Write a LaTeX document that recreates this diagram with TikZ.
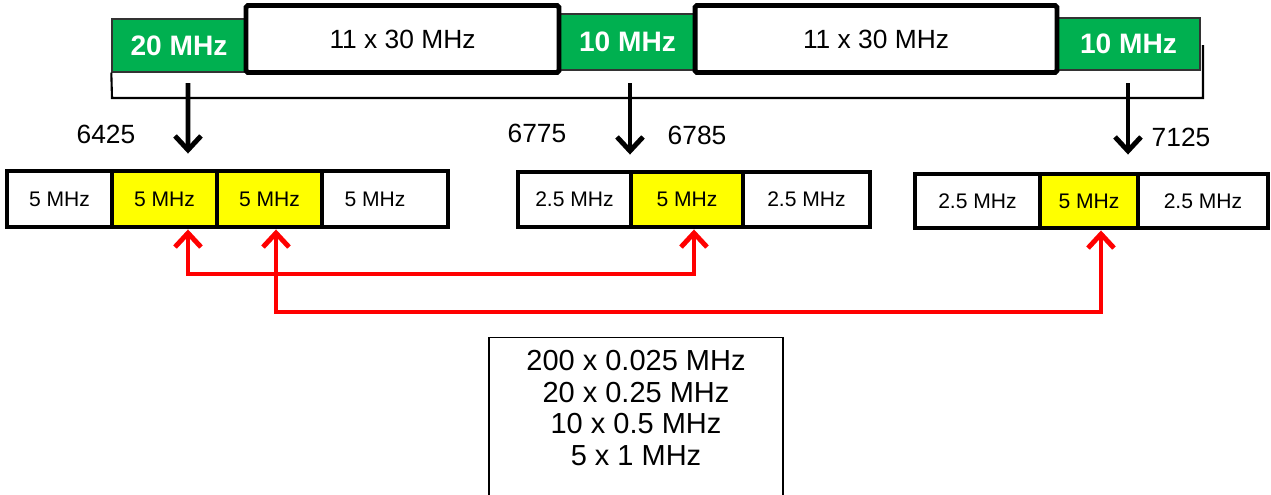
\documentclass[tikz,border=0pt]{standalone}
\usepackage{fontspec}
\setmainfont{Liberation Sans}
\usetikzlibrary{arrows.meta,positioning,calc}
\definecolor{bandgreen}{RGB}{0,176,80}
\definecolor{chanyellow}{RGB}{255,255,0}
\definecolor{linkred}{RGB}{255,0,0}
\tikzset{
  guard/.style={draw=black!80, line width=0.8pt, fill=bandgreen, text=white,
                font=\fontsize{16}{18}\selectfont\bfseries, inner sep=0pt},
  block/.style={draw, line width=2.8pt, rounded corners=1pt, fill=white,
                font=\fontsize{15}{18}\selectfont, inner sep=0pt, minimum height=1.34cm},
  chan/.style={draw, line width=2.8pt, fill=white, inner sep=0pt,
               font=\fontsize{12}{14}\selectfont},
  chanhi/.style={chan, fill=chanyellow},
  freq/.style={font=\fontsize{15}{18}\selectfont, inner sep=0pt},
  down/.style={-{Straight Barb[length=2.8mm, width=5.2mm]}, line width=2.8pt},
  link/.style={{Straight Barb[length=2.8mm, width=5.2mm]}-{Straight Barb[length=2.8mm, width=5.2mm]},
               line width=2.8pt, draw=linkred}
}

\begin{document}
\begin{tikzpicture}[x=0.02cm, y=-0.02cm]
  \useasboundingbox (0,0) rectangle (1271,494);
  % top band plan
  \node[guard, minimum width=2.68cm, minimum height=1.06cm] (g1) at (179,45.5) {20 MHz};
  \node[guard, minimum width=2.74cm, minimum height=1.12cm] (g2) at (627.5,42) {10 MHz};
  \node[guard, minimum width=2.86cm, minimum height=1.04cm] (g3) at (1128.5,44) {10 MHz};
  \node[block, minimum width=6.26cm] (b1) at (402.5,39) {11 x 30 MHz};
  \node[block, minimum width=7.24cm] (b2) at (876,39) {11 x 30 MHz};
  \coordinate (brkl) at (112,98);
  \coordinate (brkr) at (1203,98);
  \coordinate (brkt) at (1203,45);
  \draw[line width=1.2pt] (g1.south west) -- (brkl) -- (brkr) -- (brkt);

  % frequency marks
  \node[freq] (f1) at (106,134) {6425};
  \node[freq] (f2) at (537,133) {6775};
  \node[freq] (f3) at (697,135) {6785};
  \node[freq] (f4) at (1181,137) {7125};

  % channel rows
  \node[chan, minimum width=2.1cm, minimum height=1.12cm] (c1) at (59.5,199) {5 MHz};
  \node[chanhi, minimum width=2.1cm, minimum height=1.12cm] (c2) at (164.5,199) {5 MHz};
  \node[chanhi, minimum width=2.1cm, minimum height=1.12cm] (c3) at (269.5,199) {5 MHz};
  \node[chan, minimum width=2.52cm, minimum height=1.12cm] (c4) at (385,199) {\hspace*{-0.4cm}5 MHz};
  \node[chan, minimum width=2.26cm, minimum height=1.1cm] (d1) at (574.5,199.5) {2.5 MHz};
  \node[chanhi, minimum width=2.24cm, minimum height=1.1cm] (d2) at (687,199.5) {5 MHz};
  \node[chan, minimum width=2.54cm, minimum height=1.1cm] (d3) at (806.5,199.5) {2.5 MHz};
  \node[chan, minimum width=2.5cm, minimum height=1.08cm] (e1) at (977.5,201) {2.5 MHz};
  \node[chanhi, minimum width=1.96cm, minimum height=1.08cm] (e2) at (1089,201) {\raisebox{-0.12cm}{5 MHz}};
  \node[chan, minimum width=2.6cm, minimum height=1.08cm] (e3) at (1203,201) {2.5 MHz};

  % down arrows
  \coordinate (a1) at (188,83);
  \coordinate (a2) at (630,83);
  \coordinate (a3) at (1128,83);
  \draw[down] (a1) -- ($(c2.north)+(23.5,-15)$);
  \draw[down] (a2) -- ($(d2.north)+(-57,-15)$);
  \draw[down] (a3) -- ($(e2.north)+(39,-17)$);

  % red links
  \draw[link] ($(c2.south)+(23.5,0)$) |- (400,274) -| ($(d2.south)+(7,0)$);
  \draw[link] ($(c3.south)+(6.5,0)$) |- (700,312) -| ($(e2.south)+(12,0)$);

  % numerology
  \node[draw, line width=1pt, minimum width=5.88cm, minimum height=3.3cm] (opts) at (636,420) {};
  \node[align=center, font=\fontsize{16.5}{18}\selectfont] (optstxt) at (636,408)
    {200 x 0.025 MHz\\20 x 0.25 MHz\\10 x 0.5 MHz\\5 x 1 MHz};
\end{tikzpicture}
\end{document}
